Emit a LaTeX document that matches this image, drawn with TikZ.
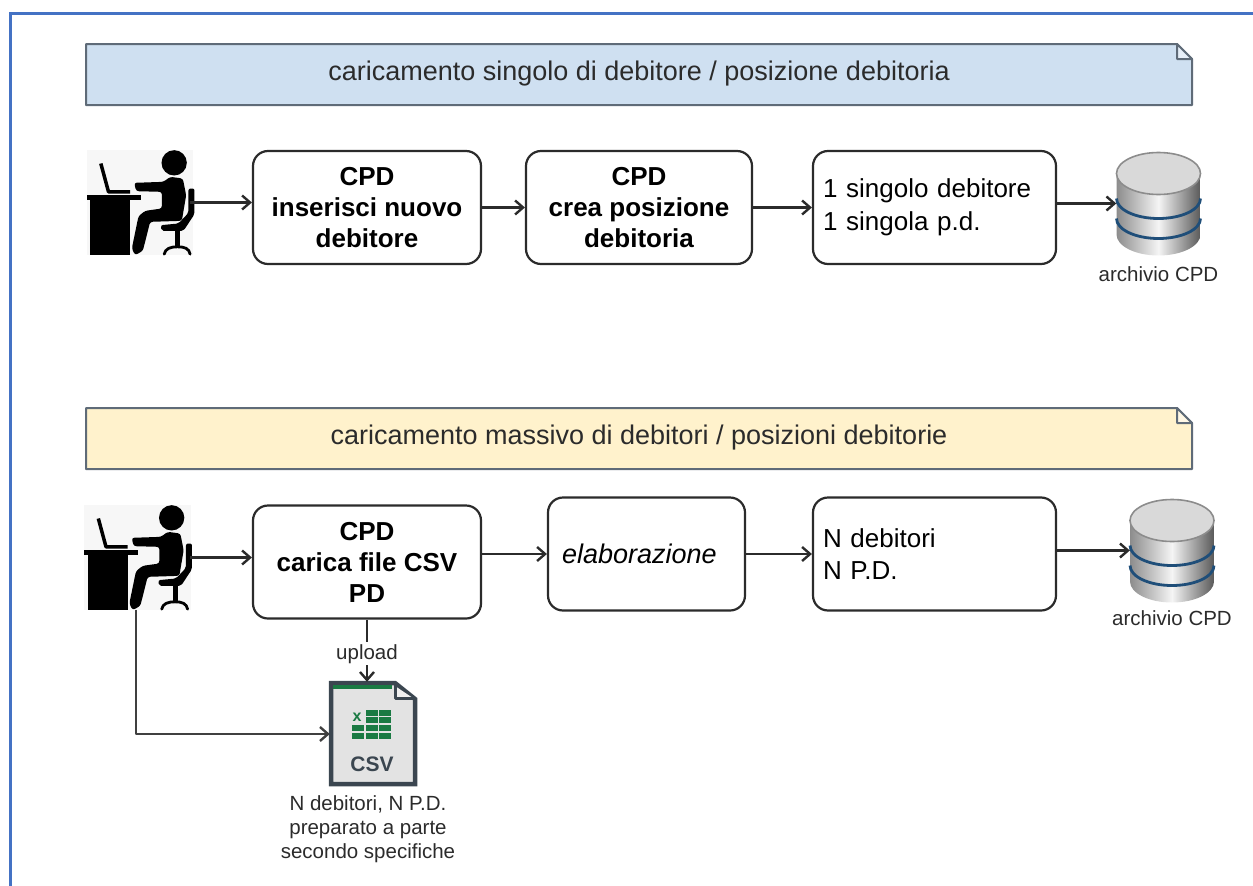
\documentclass[tikz,border=0pt]{standalone}
\usepackage{fontspec}
\setmainfont{Liberation Sans}
\usetikzlibrary{positioning,arrows.meta,calc}
\definecolor{framecol}{HTML}{4472C4}
\definecolor{inkcol}{HTML}{2B2B2B}
\definecolor{edgecol}{HTML}{5F6B78}
\definecolor{bluefill}{HTML}{CFE0F1}
\definecolor{yellowfill}{HTML}{FFF2CC}
\definecolor{slatecol}{HTML}{3B4650}
\definecolor{xlgreen}{HTML}{1A7A43}
\definecolor{stripecol}{HTML}{1F4E79}
\tikzset{
  flowbox/.style={draw=inkcol,line width=2.2pt,rounded corners=15pt,fill=white,minimum height=113pt,text=black,inner sep=0pt},
  boldbox/.style={flowbox,font=\fontsize{26}{31}\selectfont\bfseries,align=center},
  plainbox/.style={flowbox,font=\fontsize{26}{32}\selectfont,align=left,text width=223pt},
  slot/.style={inner sep=0pt,minimum width=#1,minimum height=104pt},
  caption/.style={font=\fontsize{20.5}{24}\selectfont,text=inkcol,inner sep=0pt,align=center},
  banner/.style={font=\fontsize{27}{30}\selectfont,text=inkcol},
  link/.style={->,line width=2.4pt,draw=inkcol},
  pics/worker/.style={code={
    \begin{scope}[scale=.3333,shift={(-205,-187)}]
      \fill[black!3] (50,30) rectangle (370,345);
      \fill (312,68) circle (38);
      \fill (50,163) rectangle (212,180);
      \fill (60,180) rectangle (180,345);
      \draw[line width=3.5pt,line join=round] (92,70)--(115,155)--(180,155);
      \fill[rounded corners=2.5pt] (192,128)--(280,125)--(300,110)--(338,115)--(348,165)--(335,242)--(240,245)--(218,332)--(195,345)--(185,325)--(205,228)--(225,212)--(275,205)--(275,155)--(198,153)--cycle;
      \fill[rounded corners=2pt] (355,145)--(373,145)--(373,222)--(340,272)--(274,272)--(272,255)--(325,250)--(355,218)--cycle;
      \fill (315,270) rectangle (330,322);
      \draw[line width=2.8pt,line cap=round] (282,342)..controls (286,325) and (300,320)..(322,320)..controls (345,320) and (356,325)..(360,342);
    \end{scope}
  }},
  pics/dbstack/.style={code={
    \shade[left color=black!45,right color=black!65,middle color=black!4] (-42,-30)--(-42,31) arc[start angle=180,end angle=0,x radius=42,y radius=21]--(42,-30)--cycle;
    \foreach \s in {-5,15}
      \draw[stripecol,line width=2.8pt] (-42,\s) arc[start angle=180,end angle=0,x radius=42,y radius=20];
    \draw[fill=black!15,draw=black!45,line width=1.6pt] (0,-30) ellipse [x radius=42,y radius=21];
  }},
  pics/csvfile/.style={code={
    \draw[slatecol,fill=black!11,line width=4.5pt,line join=miter] (-41,-51)--(23,-51)--(43,-35)--(43,50)--(-41,50)--cycle;
    \fill[black!6] (23,-48)--(23,-36)--(41,-36)--cycle;
    \draw[slatecol,line width=3pt] (23,-51)--(23,-36)--(43,-36);
    \fill[xlgreen] (-39,-49) rectangle (20,-45);
    \foreach \r in {-24,-17}
      \foreach \c in {-6,7}
        \fill[xlgreen] (\c,\r) rectangle +(11.5,5.5);
    \foreach \r in {-9,-1}
      \foreach \c in {-20,-6,7}
        \fill[xlgreen] (\c,\r) rectangle +(11.5,5.5);
    \node[font=\fontsize{16}{16}\selectfont\bfseries,text=xlgreen,inner sep=0pt] (xlmark) at (-15,-17) {x};
    \node[font=\fontsize{21}{21}\selectfont\bfseries,text=slatecol,inner sep=0pt] (csvtag) at (0,30) {CSV};
  }}
}
\begin{document}
\begin{tikzpicture}[x=1pt,y=-1pt,>={Straight Barb[length=8pt,width=14pt,line width=2.4pt]},line join=round]
  \useasboundingbox (0,0) rectangle (1253,886);
  \draw[framecol,line width=3.5pt,line join=miter] (10.5,886)--(10.5,13.5)--(1253,13.5);
  % banners
  \foreach \y/\c in {44/bluefill,408/yellowfill}{
    \draw[edgecol,fill=\c,line width=2pt] (86,\y)--(1177,\y)--(1192,\y+15)--(1192,\y+61)--(86,\y+61)--cycle;
    \draw[edgecol,fill=\c!50!white,line width=2pt] (1177,\y)--(1177,\y+15)--(1192,\y+15)--cycle;
  }
  \node[banner] (headone) at (639,74) {caricamento singolo di debitore / posizione debitoria};
  \node[banner] (headtwo) at (639,438) {caricamento massivo di debitori / posizioni debitorie};
  % first row
  \node[slot=103pt] (usera) at (138.5,202.5) {};
  \pic at (usera) {worker};
  \node[boldbox,minimum width=228pt] (insert) at (367,207.5) {CPD\\inserisci nuovo\\debitore};
  \node[boldbox,minimum width=226pt] (create) at (639,207.5) {CPD\\crea posizione\\debitoria};
  \node[plainbox,minimum width=243pt] (single) at (934.5,207.5) {1 singolo debitore\\[1pt]1 singola p.d.};
  \node[slot=84pt] (dba) at (1158.5,203.5) {};
  \pic at (dba) {dbstack};
  \node[caption,below=11pt of dba] (dbatext) {archivio CPD};
  \draw[link] (usera)--(insert.west |- usera);
  \draw[link] (insert)--(create);
  \draw[link] (create)--(single);
  \draw[link] (single.east |- dba)--(dba);
  % second row
  \node[slot=108pt] (userb) at (136,557.5) {};
  \pic at (userb) {worker};
  \node[boldbox,minimum width=228pt] (upfile) at (367,562) {CPD\\carica file CSV\\PD};
  \node[flowbox,minimum width=197pt,text width=169pt,align=left,font=\fontsize{27}{31}\selectfont\itshape] (work) at (646.5,554) {elaborazione};
  \node[plainbox,minimum width=243pt] (many) at (934.5,554) {N debitori\\N P.D.};
  \node[slot=84pt] (dbb) at (1172,550.5) {};
  \pic at (dbb) {dbstack};
  \node[caption,below=8pt of dbb] (dbbtext) {archivio CPD};
  \node[slot=84pt] (csv) at (372,734) {};
  \pic at (csv) {csvfile};
  \node[caption,below=9pt of csv,xshift=-4pt] (csvtext) {N debitori, N P.D.\\preparato a parte\\secondo specifiche};
  \draw[link] (userb)--(upfile.west |- userb);
  \draw[link] (upfile.east |- work)--(work);
  \draw[link] (work)--(many);
  \draw[link] (many.east |- dbb)--(dbb);
  \draw[link] (upfile.south)--node[caption,fill=white,inner sep=2pt,pos=.55] (uplabel) {upload} (upfile.south |- csv.north);
  \draw[link,draw=black!75,line width=2.8pt] (userb.south)|-(csv.west);
\end{tikzpicture}
\end{document}
